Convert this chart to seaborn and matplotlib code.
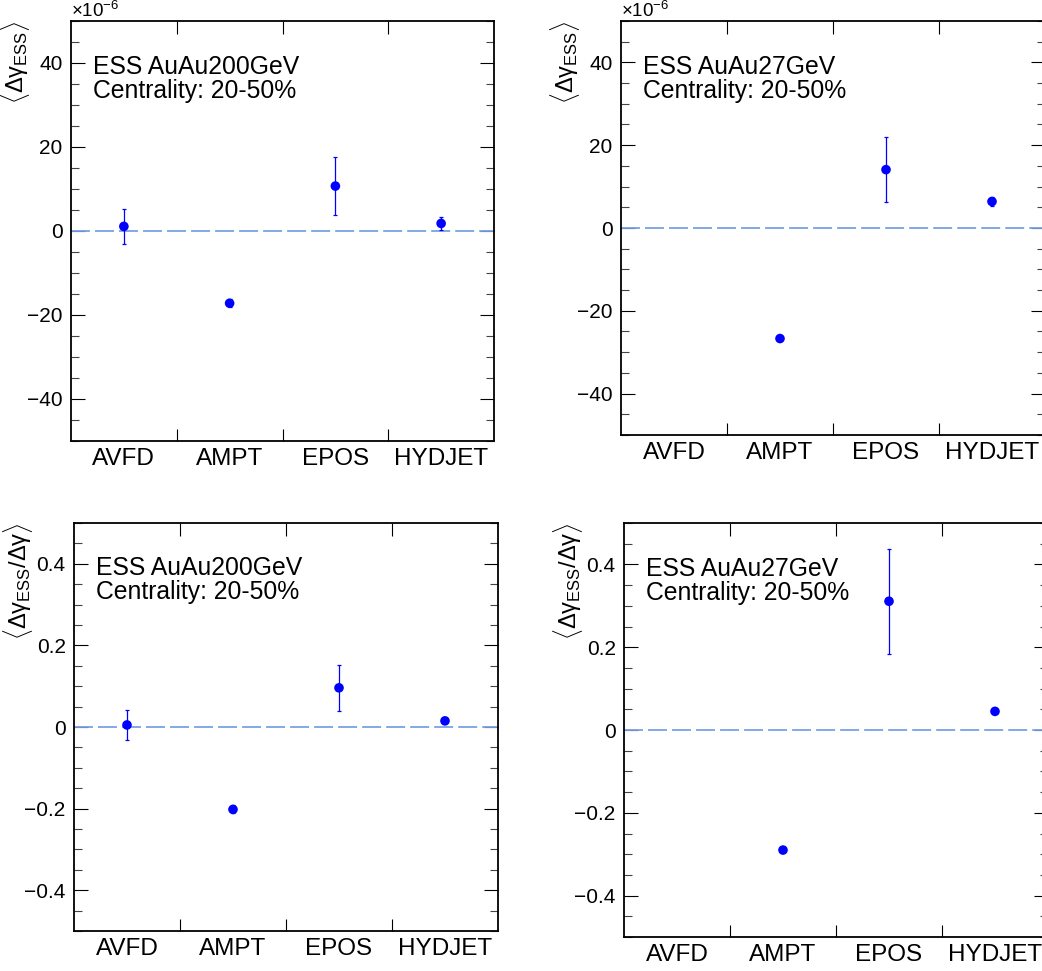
import numpy as np
import pandas as pd
import matplotlib
matplotlib.use("Agg")
import matplotlib.pyplot as plt
import matplotlib.ticker as mticker
import seaborn as sns

# model categories on the x axis
categories = ["AVFD", "AMPT", "EPOS", "HYDJET"]

# <dgamma_ESS> in units of 1e-6 (AVFD missing at 27 GeV)
ess200_val = [1.1, -17.2, 10.7, 1.8]
ess200_err = [4.1, 1.0, 7.0, 1.5]
ess27_val = [np.nan, -26.7, 14.1, 6.4]
ess27_err = [np.nan, 0.4, 7.8, 1.0]

# <dgamma_ESS / dgamma>
ratio200_val = [0.005, -0.202, 0.096, 0.015]
ratio200_err = [0.037, 0.010, 0.057, 0.006]
ratio27_val = [np.nan, -0.290, 0.311, 0.045]
ratio27_err = [np.nan, 0.004, 0.127, 0.004]

sns.set_theme(style="ticks")
plt.rcParams["font.family"] = ["Liberation Sans", "DejaVu Sans"]
plt.rcParams["mathtext.fontset"] = "custom"
plt.rcParams["mathtext.rm"] = "Liberation Sans"
plt.rcParams["mathtext.it"] = "Liberation Sans"
plt.rcParams["mathtext.bf"] = "Liberation Sans:bold"
plt.rcParams["axes.unicode_minus"] = True
for key in ["text.color", "axes.labelcolor", "xtick.color", "ytick.color",
            "xtick.labelcolor", "ytick.labelcolor"]:
    plt.rcParams[key] = "black"

fig = plt.figure(figsize=(10.42, 9.71), dpi=100)

W, H = 1042.0, 971.0


def add_axes_px(left, top, right, bottom):
    return fig.add_axes([left / W, 1 - bottom / H, (right - left) / W, (bottom - top) / H])


def fmt_tick(v, pos):
    s = "{:g}".format(round(v, 6))
    if s == "-0":
        s = "0"
    return s.replace("-", "\u2212")


def draw_panel(ax, vals, errs, ylim, major, minor, ylabel, title, multiplier):
    x = np.arange(len(categories))
    df = pd.DataFrame({"x": x, "y": vals, "err": errs}).dropna()

    ax.axhline(0, color="#7aa0e8", lw=1.3, ls=(0, (10.5, 2.8)), zorder=1)
    ax.errorbar(df["x"], df["y"], yerr=df["err"], fmt="none", ecolor="#0000ff",
                elinewidth=0.9, capsize=1.5, capthick=0.9, zorder=2)
    sns.scatterplot(data=df, x="x", y="y", ax=ax, color="#0000ff", s=48,
                    edgecolor="none", zorder=3, legend=False)

    ax.set_xlim(-0.5, len(categories) - 0.5)
    ax.set_ylim(*ylim)

    # category boundaries as ticks, names at the centres
    ax.set_xticks(np.arange(len(categories) - 1) + 0.5)
    ax.set_xticklabels([])
    ax.set_xticks(x, minor=True)
    ax.set_xticklabels(categories, minor=True, fontsize=17.5)
    ax.tick_params(axis="x", which="major", direction="in", length=9, width=0.8,
                   top=True, bottom=True, color="black")
    ax.tick_params(axis="x", which="minor", length=0, pad=5)

    ax.yaxis.set_major_locator(mticker.MultipleLocator(major))
    ax.yaxis.set_minor_locator(mticker.MultipleLocator(minor))
    ax.yaxis.set_major_formatter(mticker.FuncFormatter(fmt_tick))
    ax.tick_params(axis="y", which="major", direction="in", length=10, width=0.8,
                   left=True, right=True, labelsize=15, pad=6, color="black")
    ax.tick_params(axis="y", which="minor", direction="in", length=5.5, width=0.8,
                   left=True, right=True, color="#444444")

    for sp in ax.spines.values():
        sp.set_linewidth(1.3)
        sp.set_color("black")
        sp.set_visible(True)

    ax.set_xlabel("")
    ax.set_ylabel(ylabel, fontsize=17, loc="top")
    ax.yaxis.set_label_coords(-0.092, 1.0)

    ax.text(0.052, 0.918, title, transform=ax.transAxes, fontsize=17.8,
            ha="left", va="top", linespacing=0.98)
    if multiplier:
        ax.text(0.0, 1.0, r"$\times$10$^{-6}$", transform=ax.transAxes,
                fontsize=13.5, ha="left", va="bottom")


lab_ess = r"$\langle\Delta\gamma_{\mathrm{ESS}}\rangle$"
lab_ratio = r"$\langle\Delta\gamma_{\mathrm{ESS}}/\Delta\gamma\rangle$"

ax1 = add_axes_px(71, 21, 494, 441)
draw_panel(ax1, ess200_val, ess200_err, (-50, 50), 20, 5, lab_ess,
           "ESS AuAu200GeV\nCentrality: 20-50%", True)

ax2 = add_axes_px(621, 21, 1045, 435)
draw_panel(ax2, ess27_val, ess27_err, (-50, 50), 20, 5, lab_ess,
           "ESS AuAu27GeV\nCentrality: 20-50%", True)

ax3 = add_axes_px(74, 523, 498, 931)
draw_panel(ax3, ratio200_val, ratio200_err, (-0.5, 0.5), 0.2, 0.05, lab_ratio,
           "ESS AuAu200GeV\nCentrality: 20-50%", False)

ax4 = add_axes_px(624, 523, 1048, 937)
draw_panel(ax4, ratio27_val, ratio27_err, (-0.5, 0.5), 0.2, 0.05, lab_ratio,
           "ESS AuAu27GeV\nCentrality: 20-50%", False)

fig.savefig("out.png", dpi=100)
